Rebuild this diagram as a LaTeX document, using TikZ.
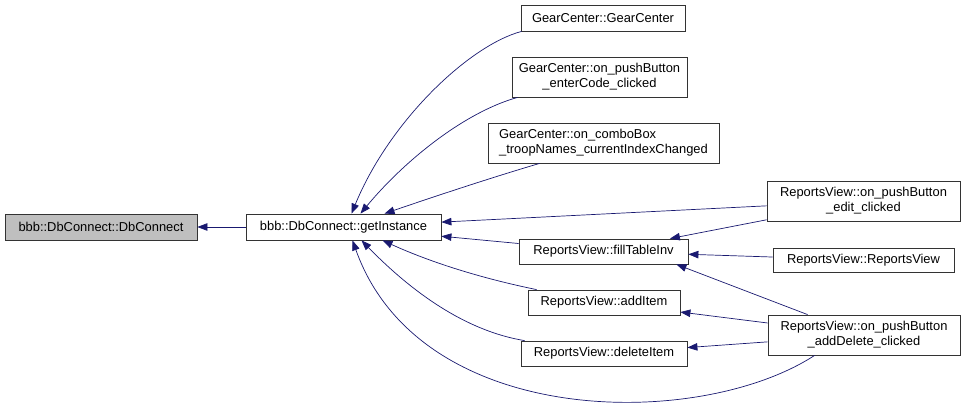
\documentclass[tikz,border=0pt]{standalone}
\usepackage{fontspec}
\setmainfont{Liberation Sans}
\usetikzlibrary{arrows.meta}

\definecolor{edgeblue}{HTML}{191970}
\definecolor{rootgray}{HTML}{BFBFBF}

\begin{document}
\begin{tikzpicture}[
    x=1pt, y=-1pt,
    font=\fontsize{12.9}{15}\selectfont,
    >={Triangle[length=10pt,width=7.5pt,fill=edgeblue]},
    % Styles
    fnbox/.style={
      draw=black!80,
      fill=white,
      line width=0.8pt,
      align=center,
      inner sep=2pt
    },
    fnroot/.style={
      fnbox,
      fill=rootgray
    },
    callarrow/.style={
      ->,
      line width=0.7pt,
      draw=edgeblue
    }
  ]

    \useasboundingbox (0,0) rectangle (965,406);

    % Function nodes
    \node (dbConnect) [fnroot, minimum width=192pt, minimum height=26pt] at (101,227) {bbb::DbConnect::DbConnect};
    \node (getInstance) [fnbox, minimum width=195pt, minimum height=26pt] at (343.5,227) {bbb::DbConnect::getInstance};

    % GearCenter callers
    \node (gcCtor) [fnbox, minimum width=164pt, minimum height=26pt] at (603,18) {GearCenter::GearCenter};
    \node (gcEnter) [fnbox, minimum width=175pt, minimum height=40pt] at (599.5,77) {GearCenter::on\_pushButton\\\_enterCode\_clicked};
    \node (gcCombo) [fnbox, align=left, minimum width=231pt, minimum height=40pt] at (603.5,143) {GearCenter::on\_comboBox\\\_troopNames\_currentIndexChanged};

    % ReportsView middle column
    \node (rvFill) [fnbox, minimum width=169pt, minimum height=25pt] at (603.5,251.5) {ReportsView::fillTableInv};
    \node (rvAdd) [fnbox, minimum width=152pt, minimum height=25pt] at (604,302.5) {ReportsView::addItem};
    \node (rvDelete) [fnbox, minimum width=166pt, minimum height=25pt] at (604,353.5) {ReportsView::deleteItem};

    % ReportsView right column
    \node (rvEdit) [fnbox, minimum width=193pt, minimum height=40pt] at (863.5,201) {ReportsView::on\_pushButton\\\_edit\_clicked};
    \node (rvCtor) [fnbox, minimum width=181pt, minimum height=24pt] at (863.5,260) {ReportsView::ReportsView};
    \node (rvAddDelete) [fnbox, minimum width=192pt, minimum height=40pt] at (864,335) {ReportsView::on\_pushButton\\\_addDelete\_clicked};

    % Connections
    \draw [callarrow] (getInstance) -- (dbConnect);

    \draw [callarrow] ([xshift=1pt]gcCtor.south west) .. controls (470,45) and (390,120) .. ([xshift=8pt]getInstance.north);
    \draw [callarrow] ([xshift=6pt]gcEnter.south west) .. controls (465,112) and (405,160) .. ([xshift=17pt]getInstance.north);
    \draw [callarrow] ([xshift=52pt]gcCombo.south west) .. controls (490,178) and (430,198) .. ([xshift=41pt]getInstance.north);

    \draw [callarrow] (rvEdit) -- (getInstance);
    \draw [callarrow] (rvFill) -- (getInstance);
    \draw [callarrow] ([xshift=9pt]rvAdd.north west) .. controls (480,278) and (430,262) .. ([xshift=39pt]getInstance.south);
    \draw [callarrow] ([xshift=4pt]rvDelete.north west) .. controls (460,330) and (405,285) .. ([xshift=18pt]getInstance.south);
    \draw [callarrow] ([xshift=47pt]rvAddDelete.south west) .. controls (700,430) and (420,430) .. ([xshift=9pt]getInstance.south);

    \draw [callarrow] (rvEdit) -- (rvFill);
    \draw [callarrow] (rvCtor) -- (rvFill);
    \draw [callarrow] ([xshift=40pt]rvAddDelete.north west) -- ([xshift=-12pt]rvFill.south east);
    \draw [callarrow] (rvAddDelete) -- (rvAdd);
    \draw [callarrow] (rvAddDelete) -- (rvDelete);

  \end{tikzpicture}
\end{document}
